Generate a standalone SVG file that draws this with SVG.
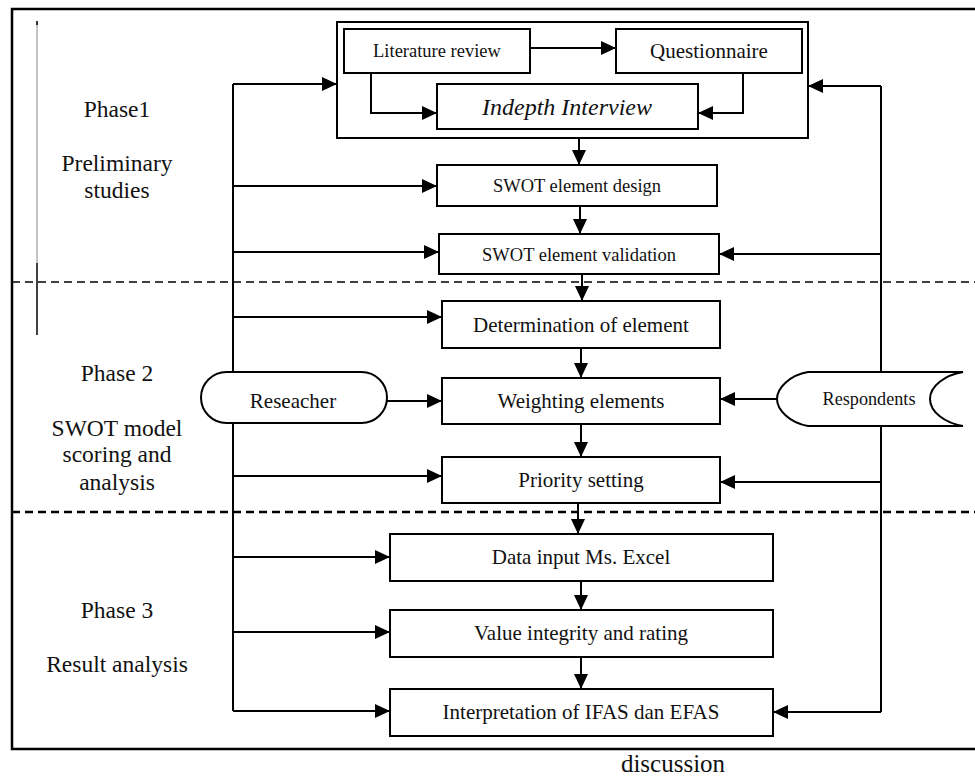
<svg xmlns="http://www.w3.org/2000/svg" width="975" height="778" viewBox="0 0 975 778">
<defs>
<marker id="ah" markerUnits="userSpaceOnUse" markerWidth="15" markerHeight="15" viewBox="0 0 15 15" refX="15" refY="7.5" orient="auto">
<path d="M0,0.5 L15,7.5 L0,14.5 Z" fill="#000"/>
</marker>
<style>
.box{fill:#fff;stroke:#000;stroke-width:2}
.ln{fill:none;stroke:#000;stroke-width:2}
.ar{fill:none;stroke:#000;stroke-width:2;marker-end:url(#ah)}
.t{font-family:"Liberation Serif","Times New Roman",serif;fill:#111;text-anchor:middle}
.f21{font-size:21px}
.f18{font-size:18.5px}
.lab{font-size:23.5px}
</style>
</defs>
<rect width="975" height="778" fill="#fff"/>

<g id="frame">
<path d="M975,9 L12,9 L12,749 L975,749" fill="none" stroke="#000" stroke-width="2.5"/>
<line x1="37" y1="22" x2="37" y2="263" stroke="#c4c4c4" stroke-width="2"/>
<line x1="37" y1="21" x2="37" y2="25" stroke="#000" stroke-width="1.5"/>
<line x1="37" y1="263" x2="37" y2="335" stroke="#000" stroke-width="1.5"/>
<line x1="12" y1="282" x2="975" y2="282" stroke="#000" stroke-width="1.5" stroke-dasharray="8,5"/>
<line x1="12" y1="512" x2="975" y2="512" stroke="#000" stroke-width="2.5" stroke-dasharray="8,5"/>
</g>

<g id="phase-labels">
<text class="t lab" x="117" y="117">Phase1</text>
<text class="t lab" x="117" y="171">Preliminary</text>
<text class="t lab" x="117" y="198">studies</text>
<text class="t lab" x="117" y="381">Phase 2</text>
<text class="t lab" x="117" y="436">SWOT model</text>
<text class="t lab" x="117" y="462">scoring and</text>
<text class="t lab" x="117" y="490">analysis</text>
<text class="t lab" x="117" y="618">Phase 3</text>
<text class="t lab" x="117" y="672">Result analysis</text>
<text class="t" style="font-size:25px" x="673" y="772">discussion</text>
</g>

<g id="connectors">
<polyline class="ln" points="233,84 233,711"/>
<line class="ar" x1="233" y1="84" x2="337" y2="84"/>
<line class="ar" x1="233" y1="186" x2="437" y2="186"/>
<line class="ar" x1="233" y1="252" x2="439" y2="252"/>
<line class="ar" x1="233" y1="317" x2="442" y2="317"/>
<line class="ar" x1="387" y1="401" x2="442" y2="401"/>
<line class="ar" x1="233" y1="476" x2="442" y2="476"/>
<line class="ar" x1="233" y1="557" x2="390" y2="557"/>
<line class="ar" x1="233" y1="632" x2="390" y2="632"/>
<line class="ar" x1="233" y1="711" x2="390" y2="711"/>
<polyline class="ln" points="881,86 881,712"/>
<line class="ar" x1="881" y1="86" x2="808" y2="86"/>
<line class="ar" x1="881" y1="254" x2="719" y2="254"/>
<line class="ar" x1="777" y1="399" x2="720" y2="399"/>
<line class="ar" x1="881" y1="482" x2="720" y2="482"/>
<line class="ar" x1="881" y1="712" x2="773" y2="712"/>
<line class="ar" x1="530" y1="48" x2="616" y2="48"/>
<polyline class="ar" points="371,73 371,113 437,113"/>
<polyline class="ar" points="743,73 743,113 698,113"/>
<line class="ar" x1="579" y1="138" x2="579" y2="165"/>
<line class="ar" x1="580" y1="206" x2="580" y2="234"/>
<line class="ar" x1="582" y1="274" x2="582" y2="301"/>
<line class="ar" x1="581" y1="348" x2="581" y2="378"/>
<line class="ar" x1="581" y1="424" x2="581" y2="457"/>
<line class="ar" x1="578" y1="503" x2="578" y2="534"/>
<line class="ar" x1="581" y1="581" x2="581" y2="610"/>
<line class="ar" x1="581" y1="657" x2="581" y2="689"/>
</g>

<g id="phase1-container"><rect x="337" y="22" width="471" height="116" fill="none" stroke="#000" stroke-width="2"/></g>

<g id="literature-review"><rect class="box" x="344" y="29" width="186" height="44"/><text class="t f18" x="437" y="57">Literature review</text></g>
<g id="questionnaire"><rect class="box" x="616" y="29" width="186" height="44"/><text class="t f21" x="709" y="58">Questionnaire</text></g>
<g id="indepth-interview"><rect class="box" x="437" y="84" width="261" height="45"/><text class="t" style="font-size:24px;font-style:italic" x="567" y="115">Indepth Interview</text></g>
<g id="swot-design"><rect class="box" x="437" y="165" width="280" height="41"/><text class="t f18" x="577" y="192">SWOT element design</text></g>
<g id="swot-validation"><rect class="box" x="439" y="234" width="280" height="40"/><text class="t f18" x="579" y="261">SWOT element validation</text></g>
<g id="determination"><rect class="box" x="442" y="301" width="278" height="47"/><text class="t f21" x="581" y="332">Determination of element</text></g>
<g id="weighting"><rect class="box" x="442" y="378" width="278" height="46"/><text class="t f21" x="581" y="408">Weighting elements</text></g>
<g id="priority"><rect class="box" x="442" y="457" width="278" height="46"/><text class="t f21" x="581" y="487">Priority setting</text></g>
<g id="data-input"><rect class="box" x="390" y="534" width="383" height="47"/><text class="t f21" x="581" y="564">Data input Ms. Excel</text></g>
<g id="value-integrity"><rect class="box" x="390" y="610" width="383" height="47"/><text class="t f21" x="581" y="640">Value integrity and rating</text></g>
<g id="interpretation"><rect class="box" x="390" y="689" width="383" height="47"/><text class="t f21" x="581" y="719">Interpretation of IFAS dan EFAS</text></g>

<g id="researcher"><rect class="box" x="201" y="372" width="186" height="51" rx="25.5" ry="25.5"/><text class="t f21" x="293" y="408">Reseacher</text></g>
<g id="respondents"><path class="box" d="M808,372 C790,375 777,388 777,399 C777,410 790,423 808,426 L963,426 C945,423 930,412 930,399 C930,386 945,375 963,372 Z"/><text class="t" style="font-size:18.2px" x="869" y="405">Respondents</text></g>
</svg>
